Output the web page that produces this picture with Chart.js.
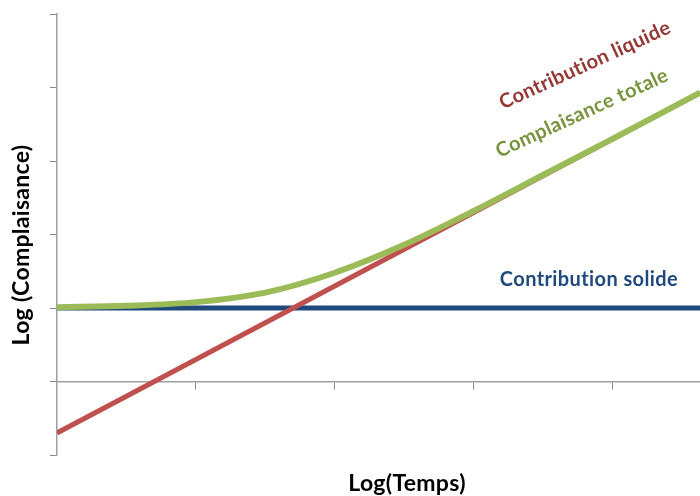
<!DOCTYPE html>
<html>
<head>
<meta charset="utf-8">
<script src="https://cdn.jsdelivr.net/npm/chart.js@4.4.1/dist/chart.umd.min.js"></script>
<style>
  html, body { margin: 0; padding: 0; background: #fff; }
  #wrap { width: 700px; height: 496px; position: relative; }
</style>
</head>
<body>
<div id="wrap"><canvas id="chart-compliance"></canvas></div>
<script>
// Log(Temps), en unités de graduation
const logTemps = [0, 0.5, 1, 1.5, 2, 2.5, 3, 3.5, 4, 4.63];
// Log(Complaisance)
const complaisanceTotale = [1.01, 1.03, 1.08, 1.21, 1.48, 1.86, 2.32, 2.81, 3.3, 3.93];
const contributionLiquide = [-0.7, -0.2, 0.3, 0.8, 1.3, 1.8, 2.3, 2.8, 3.3, 3.93];
const contributionSolide = [1, 1, 1, 1, 1, 1, 1, 1, 1, 1];
const seriesLabels = ["Complaisance totale", "Contribution liquide", "Contribution solide"];

const COLORS = {
  green: "#9BBB59",
  red: "#C0504D",
  blue: "#1F497D",
  greenText: "#77933C",
  redText: "#953735",
  blueText: "#1F497D",
  axis: "#A0A0A0",
  tick: "#8A8A8A",
};

function toPoints(ys) {
  return ys.map((y, i) => ({ x: logTemps[i], y: y }));
}

// textes posés sur le graphique (titres d'axes + étiquettes des courbes)
const textPlugin = {
  id: "chartTexts",
  afterDraw(chart) {
    const ctx = chart.ctx;
    const font = (size) => `bold ${size}px Lato, "Open Sans", sans-serif`;
    ctx.save();
    ctx.textAlign = "center";
    ctx.textBaseline = "middle";

    ctx.fillStyle = "#000";
    ctx.font = font(23);
    ctx.letterSpacing = "0.3px";
    ctx.fillText("Log(Temps)", 407, 484);

    ctx.save();
    ctx.translate(22, 245);
    ctx.rotate(-Math.PI / 2);
    ctx.fillText("Log (Complaisance)", 0, 0);
    ctx.restore();

    ctx.font = font(20);
    ctx.letterSpacing = "0.4px";
    ctx.fillStyle = COLORS.blueText;
    ctx.fillText(seriesLabels[2], 589, 280);

    const angle = -24.6 * Math.PI / 180;
    ctx.save();
    ctx.translate(585, 65);
    ctx.rotate(angle);
    ctx.fillStyle = COLORS.redText;
    ctx.fillText(seriesLabels[1], 0, 0);
    ctx.restore();

    ctx.save();
    ctx.translate(582, 113);
    ctx.rotate(angle);
    ctx.fillStyle = COLORS.greenText;
    ctx.fillText(seriesLabels[0], 0, 0);
    ctx.restore();

    ctx.restore();
  },
};

const ctx = document.getElementById("chart-compliance").getContext("2d");

new Chart(ctx, {
  type: "line",
  data: {
    datasets: [
      {
        label: seriesLabels[0],
        data: toPoints(complaisanceTotale),
        borderColor: COLORS.green,
        borderWidth: 6,
        pointRadius: 0,
        cubicInterpolationMode: "monotone",
      },
      {
        label: seriesLabels[1],
        data: toPoints(contributionLiquide),
        borderColor: COLORS.red,
        borderWidth: 5,
        pointRadius: 0,
      },
      {
        label: seriesLabels[2],
        data: toPoints(contributionSolide),
        borderColor: COLORS.blue,
        borderWidth: 5,
        pointRadius: 0,
      },
    ],
  },
  plugins: [textPlugin],
  options: {
    responsive: true,
    maintainAspectRatio: false,
    animation: false,
    layout: { padding: { top: 14, bottom: 41, right: 0, left: 0 } },
    plugins: {
      legend: { display: false },
      tooltip: { enabled: false },
    },
    scales: {
      x: {
        type: "linear",
        min: 0,
        max: 4.63,
        position: { y: 0 },
        ticks: { display: false, stepSize: 1 },
        grid: {
          drawOnChartArea: false,
          drawTicks: true,
          tickLength: 7,
          color: (c) => (c.tick && c.tick.value === 0 ? "transparent" : COLORS.tick),
        },
        border: { display: true, color: COLORS.axis, width: 1.5 },
      },
      y: {
        type: "linear",
        min: -1,
        max: 5,
        ticks: { display: false, stepSize: 1 },
        grid: {
          drawOnChartArea: false,
          drawTicks: true,
          tickLength: 7,
          color: COLORS.tick,
        },
        border: { display: true, color: COLORS.axis, width: 1.5 },
        afterFit(scale) {
          scale.width = 57;
        },
      },
    },
  },
});
</script>
</body>
</html>
